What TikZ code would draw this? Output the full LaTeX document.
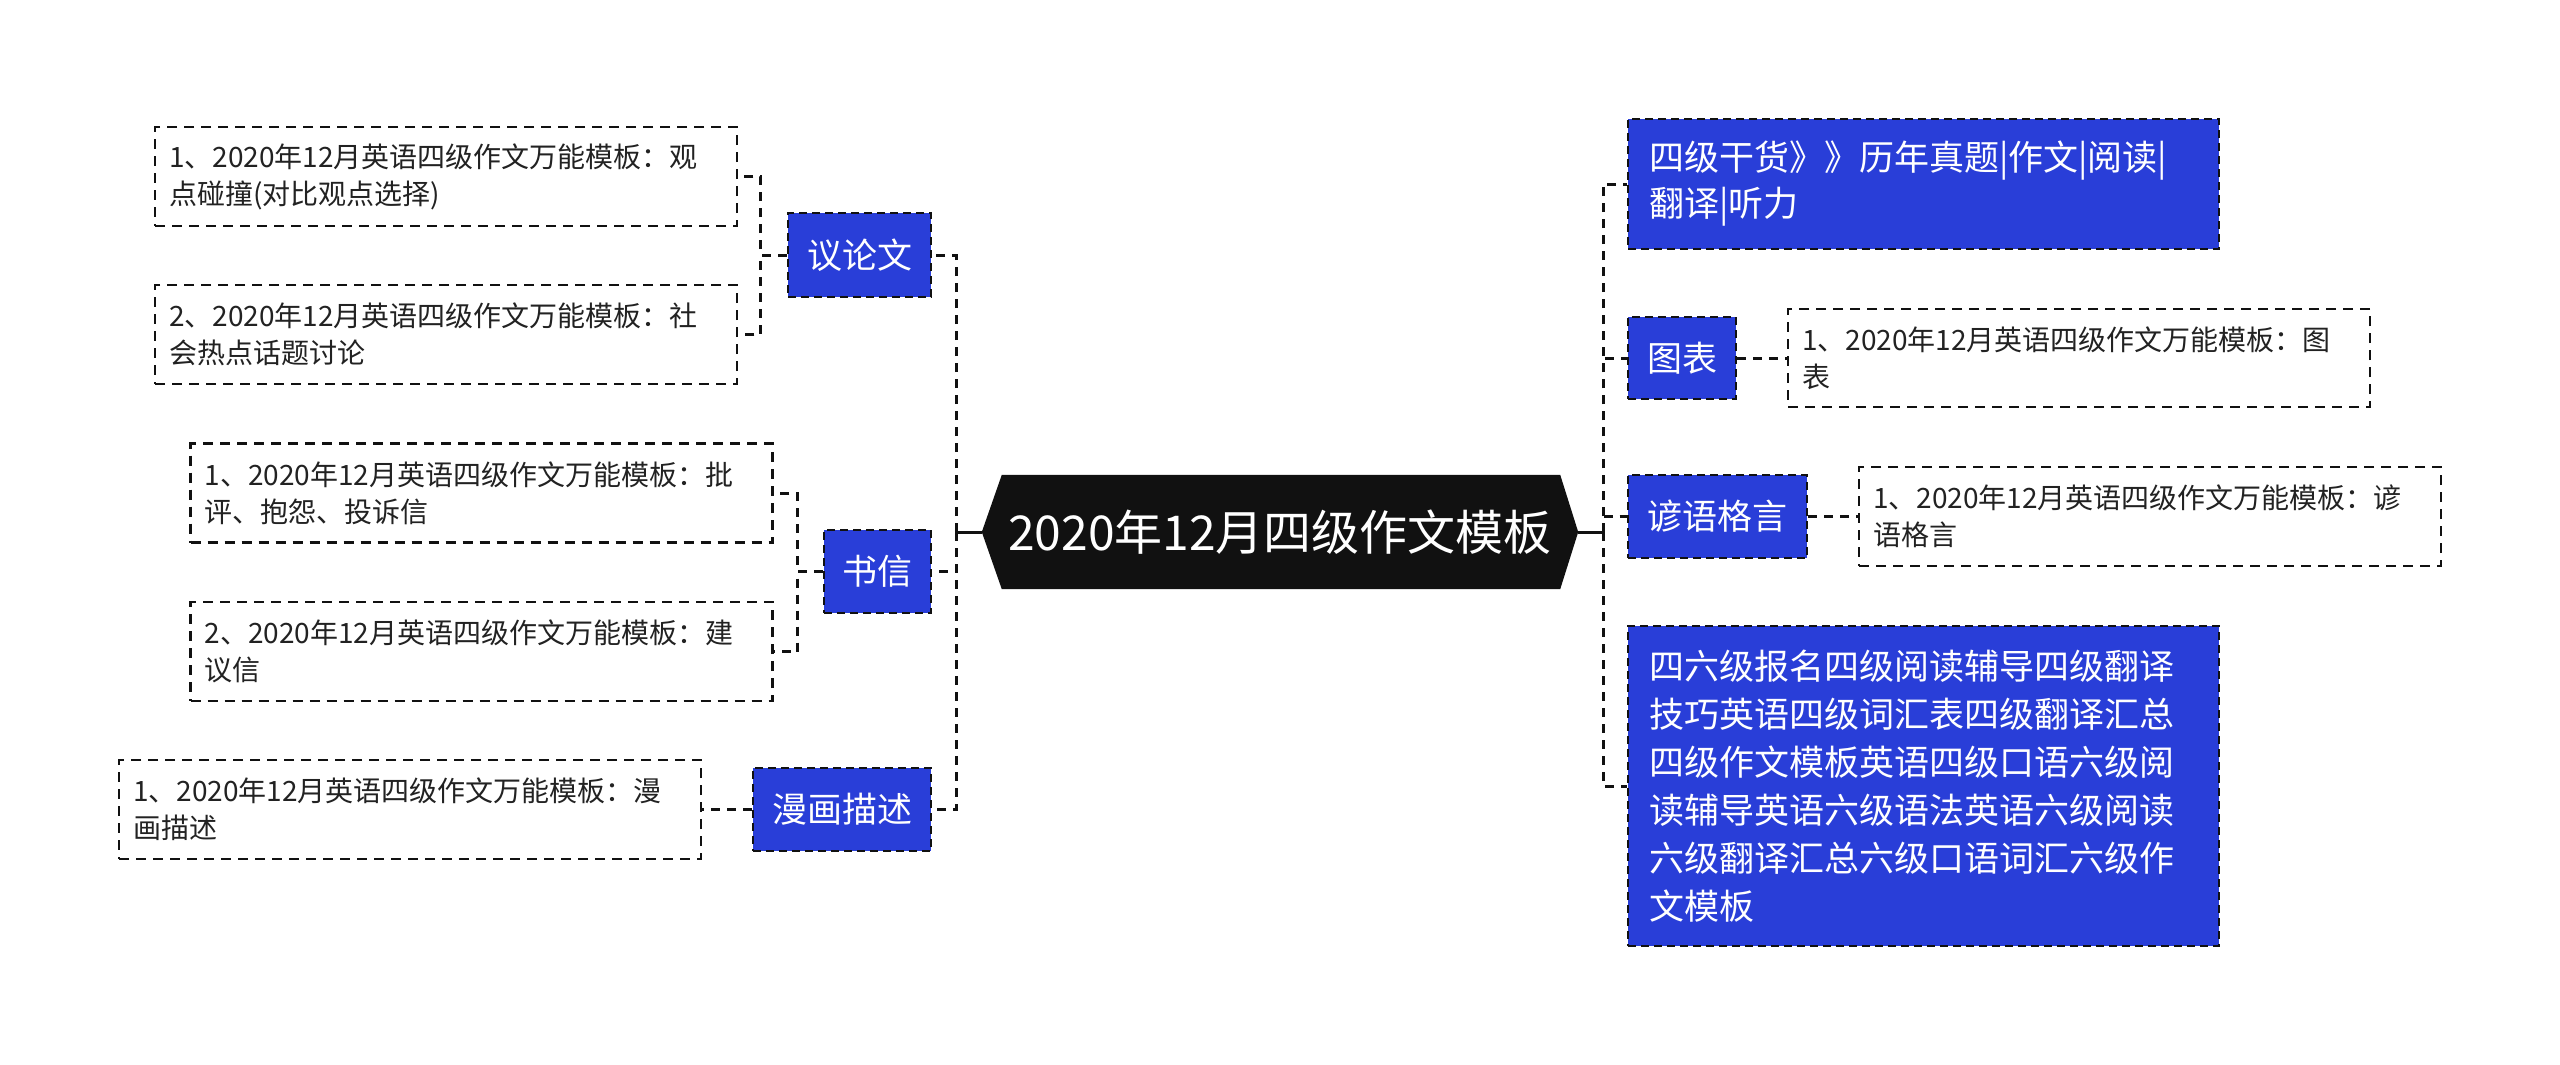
\documentclass[tikz,border=0pt]{standalone}
\usepackage{fontspec}
\newfontfamily\cjk{Noto Sans CJK SC}
\usetikzlibrary{backgrounds}
\definecolor{boxblue}{RGB}{41,62,216}
\definecolor{ink}{RGB}{17,17,17}
\definecolor{leaftext}{RGB}{34,34,34}
\begin{document}
\begin{tikzpicture}[x=1pt,y=-1pt,
  conn/.style={draw=ink, line width=3pt, dash pattern=on 9pt off 7pt},
  solidconn/.style={draw=ink, line width=3pt},
  catbox/.style={draw=ink, fill=boxblue, line width=2.5pt, dash pattern=on 8pt off 5pt,
    text=white, font={\cjk\fontsize{35}{46}\selectfont}, inner sep=0pt,
    minimum height=83pt, align=center},
  widebox/.style={catbox, text width=549pt, inner xsep=21pt, align=left},
  leafbox/.style={draw=ink, fill=white, line width=2.5pt, dash pattern=on 10pt off 7pt,
    text=leaftext, font={\cjk\fontsize{28}{37}\selectfont}, inner xsep=14pt,
    inner ysep=0pt, text width=554pt, minimum height=99pt, align=left},
  rootnode/.style={font={\cjk\fontsize{48}{58}\selectfont}, text=white,
    minimum width=596pt, minimum height=114pt, inner sep=0pt}
]
\begin{scope}[on background layer]
  \fill[white] (0,0) rectangle (2560,1065);
\end{scope}
\path[use as bounding box] (0,0) rectangle (2560,1065);

% root
\node[rootnode] (root) at (1280,532) {2020年12月四级作文模板};
\begin{scope}[on background layer]
  \fill[ink] (root.west) -- ([xshift=20pt]root.north west) -- ([xshift=-18pt]root.north east)
    -- (root.east) -- ([xshift=-18pt]root.south east) -- ([xshift=20pt]root.south west) -- cycle;
\end{scope}

% left categories
\node[catbox, minimum width=143pt, minimum height=84pt] (yl) at (859.5,255) {议论文};
\node[catbox, minimum width=107pt] (sx) at (877.5,571.5) {书信};
\node[catbox, minimum width=178pt] (mh) at (842,809.5) {漫画描述};

% left leaves
\node[leafbox] (y1) at (446,176.5) {1、2020年12月英语四级作文万能模板：观\\点碰撞(对比观点选择)};
\node[leafbox] (y2) at (446,334.5) {2、2020年12月英语四级作文万能模板：社\\会热点话题讨论};
\node[leafbox] (s1) at (481.5,493) {1、2020年12月英语四级作文万能模板：批\\评、抱怨、投诉信};
\node[leafbox] (s2) at (481.5,651.5) {2、2020年12月英语四级作文万能模板：建\\议信};
\node[leafbox] (m1) at (410,809.5) {1、2020年12月英语四级作文万能模板：漫\\画描述};

% right side
\node[widebox, minimum height=130pt] (r1) at (1923.5,184) {四级干货》》历年真题|作文|阅读|\\翻译|听力};
\node[catbox, minimum width=108pt, minimum height=82pt] (tb) at (1682,358) {图表};
\node[leafbox, minimum height=98pt] (tl) at (2079,358) {1、2020年12月英语四级作文万能模板：图\\表};
\node[catbox, minimum width=179pt] (yy) at (1717.5,516.5) {谚语格言};
\node[leafbox] (yl2) at (2150,516.5) {1、2020年12月英语四级作文万能模板：谚\\语格言};
\node[widebox, minimum height=320pt, font={\cjk\fontsize{35}{48}\selectfont}] (r4) at (1923.5,786)
  {四六级报名四级阅读辅导四级翻译\\技巧英语四级词汇表四级翻译汇总\\四级作文模板英语四级口语六级阅\\读辅导英语六级语法英语六级阅读\\六级翻译汇总六级口语词汇六级作\\文模板};

% connectors
\coordinate (sL) at (956,532);
\coordinate (sR) at (1603,532);
\draw[solidconn] (root.west) -- (sL);
\draw[solidconn] (root.east) -- (sR);
\draw[conn] (sL) |- (yl.east);
\draw[conn] (sL) |- (sx.east);
\draw[conn] (sL) |- (mh.east);
\draw[conn] (sR) |- (r1.west);
\draw[conn] (sR) |- (tb.west);
\draw[conn] (sR) |- (yy.west);
\draw[conn] (sR) |- (r4.west);

\draw[conn] (yl.west) -- ++(-26,0) |- (y1.east);
\draw[conn] (yl.west) -- ++(-26,0) |- (y2.east);
\draw[conn] (sx.west) -- ++(-25,0) |- (s1.east);
\draw[conn] (sx.west) -- ++(-25,0) |- (s2.east);
\draw[conn] (mh.west) -- (m1.east);
\draw[conn] (tb.east) -- (tl.west);
\draw[conn] (yy.east) -- (yl2.west);
\end{tikzpicture}
\end{document}
